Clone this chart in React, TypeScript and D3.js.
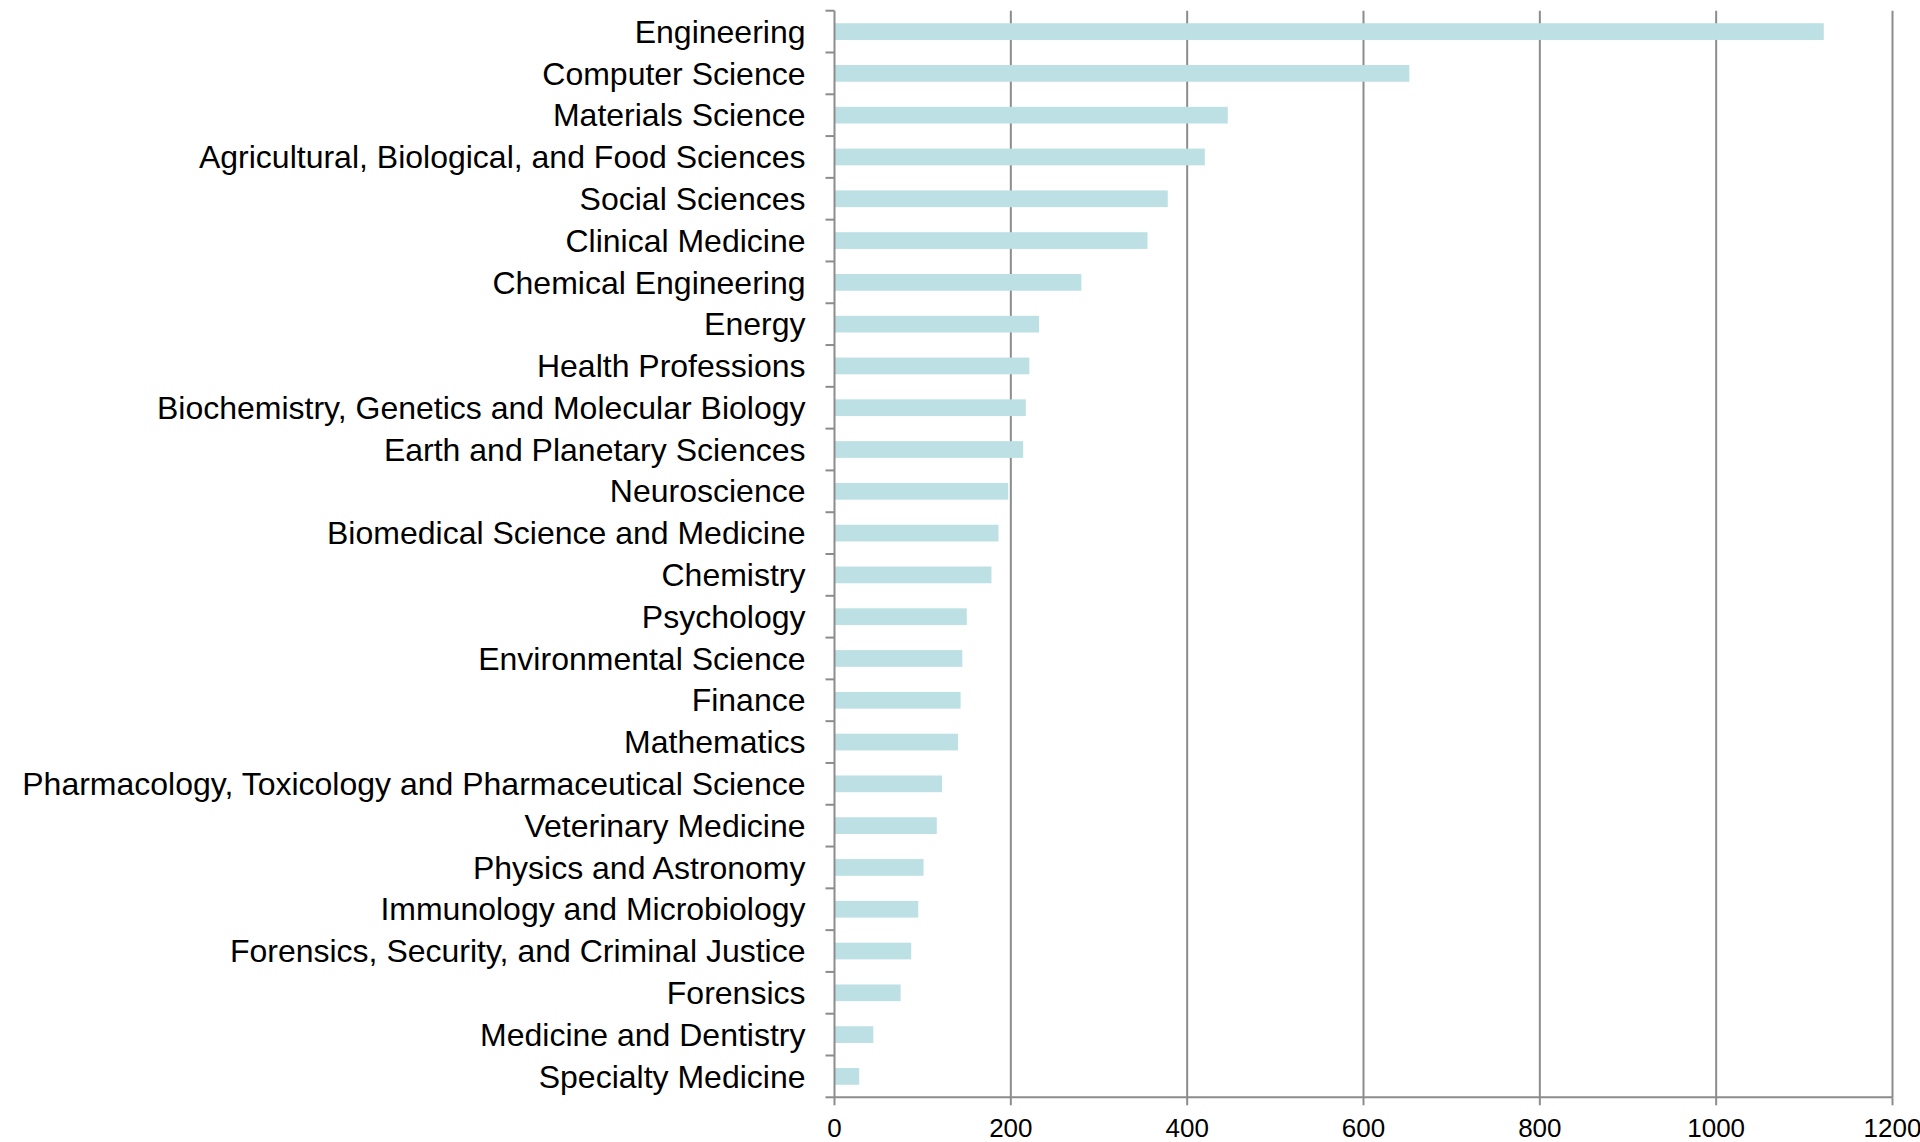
import React, { useEffect, useRef } from 'react';
import * as d3 from 'd3';

const categories = [
  'Engineering',
  'Computer Science',
  'Materials Science',
  'Agricultural, Biological, and Food Sciences',
  'Social Sciences',
  'Clinical Medicine',
  'Chemical Engineering',
  'Energy',
  'Health Professions',
  'Biochemistry, Genetics and Molecular Biology',
  'Earth and Planetary Sciences',
  'Neuroscience',
  'Biomedical Science and Medicine',
  'Chemistry',
  'Psychology',
  'Environmental Science',
  'Finance',
  'Mathematics',
  'Pharmacology, Toxicology and Pharmaceutical Science',
  'Veterinary Medicine',
  'Physics and Astronomy',
  'Immunology and Microbiology',
  'Forensics, Security, and Criminal Justice',
  'Forensics',
  'Medicine and Dentistry',
  'Specialty Medicine',
];

const counts = [
  1122, 652, 446, 420, 378, 355, 280, 232, 221, 217, 214, 197, 186, 178, 150,
  145, 143, 140, 122, 116, 101, 95, 87, 75, 44, 28,
];

const xTicks = [0, 200, 400, 600, 800, 1000, 1200];

const W = 1920;
const H = 1142;
const margin = { top: 10.7, right: 27.5, bottom: 44.7, left: 834.5 };

export default function App() {
  const ref = useRef<SVGSVGElement>(null);

  useEffect(() => {
    const svg = d3.select(ref.current);
    svg.selectAll('*').remove();

    const innerW = W - margin.left - margin.right;
    const innerH = H - margin.top - margin.bottom;

    const x = d3.scaleLinear().domain([0, 1200]).range([0, innerW]);
    const y = d3.scaleBand().domain(categories).range([0, innerH]).paddingInner(0.6).paddingOuter(0.3);
    const band = d3.scaleBand().domain(categories).range([0, innerH]);

    const g = svg.append('g').attr('transform', `translate(${margin.left},${margin.top})`);

    // vertical grid
    g.append('g')
      .selectAll('line')
      .data(xTicks.slice(1))
      .join('line')
      .attr('x1', (d) => x(d))
      .attr('x2', (d) => x(d))
      .attr('y1', 0)
      .attr('y2', innerH)
      .attr('stroke', '#8c8c8c')
      .attr('stroke-width', 2);

    // bars
    g.append('g')
      .selectAll('rect')
      .data(counts)
      .join('rect')
      .attr('x', 0)
      .attr('y', (_, i) => y(categories[i]) as number)
      .attr('width', (d) => x(d))
      .attr('height', y.bandwidth())
      .attr('fill', '#bce0e3');

    // category axis ticks at band boundaries
    const bounds = d3.range(categories.length + 1).map((i) => i * band.step());
    g.append('g')
      .selectAll('line')
      .data(bounds)
      .join('line')
      .attr('x1', -9)
      .attr('x2', 0)
      .attr('y1', (d) => d)
      .attr('y2', (d) => d)
      .attr('stroke', '#8c8c8c')
      .attr('stroke-width', 2);

    g.append('line')
      .attr('x1', 0)
      .attr('x2', 0)
      .attr('y1', 0)
      .attr('y2', innerH)
      .attr('stroke', '#8c8c8c')
      .attr('stroke-width', 2);

    g.append('g')
      .selectAll('text')
      .data(categories)
      .join('text')
      .attr('x', -29)
      .attr('y', (d) => (band(d) as number) + band.bandwidth() / 2)
      .attr('dy', '0.35em')
      .attr('text-anchor', 'end')
      .attr('font-family', 'Liberation Sans, Arial, sans-serif')
      .attr('font-size', 32)
      .attr('fill', '#000')
      .text((d) => d);

    // value axis
    const xAxis = g.append('g').attr('transform', `translate(0,${innerH})`);
    xAxis
      .append('line')
      .attr('x1', 0)
      .attr('x2', innerW)
      .attr('stroke', '#8c8c8c')
      .attr('stroke-width', 2);
    xAxis
      .selectAll('line.tick')
      .data(xTicks)
      .join('line')
      .attr('class', 'tick')
      .attr('x1', (d) => x(d))
      .attr('x2', (d) => x(d))
      .attr('y1', 0)
      .attr('y2', 8)
      .attr('stroke', '#8c8c8c')
      .attr('stroke-width', 2);
    xAxis
      .selectAll('text')
      .data(xTicks)
      .join('text')
      .attr('x', (d) => x(d))
      .attr('y', 31)
      .attr('dy', '0.35em')
      .attr('text-anchor', 'middle')
      .attr('font-family', 'Liberation Sans, Arial, sans-serif')
      .attr('font-size', 26)
      .attr('fill', '#000')
      .text((d) => String(d));
  }, []);

  return (
    <svg
      ref={ref}
      width={W}
      height={H}
      style={{ position: 'absolute', left: 0, top: 0, background: '#fff' }}
    />
  );
}
